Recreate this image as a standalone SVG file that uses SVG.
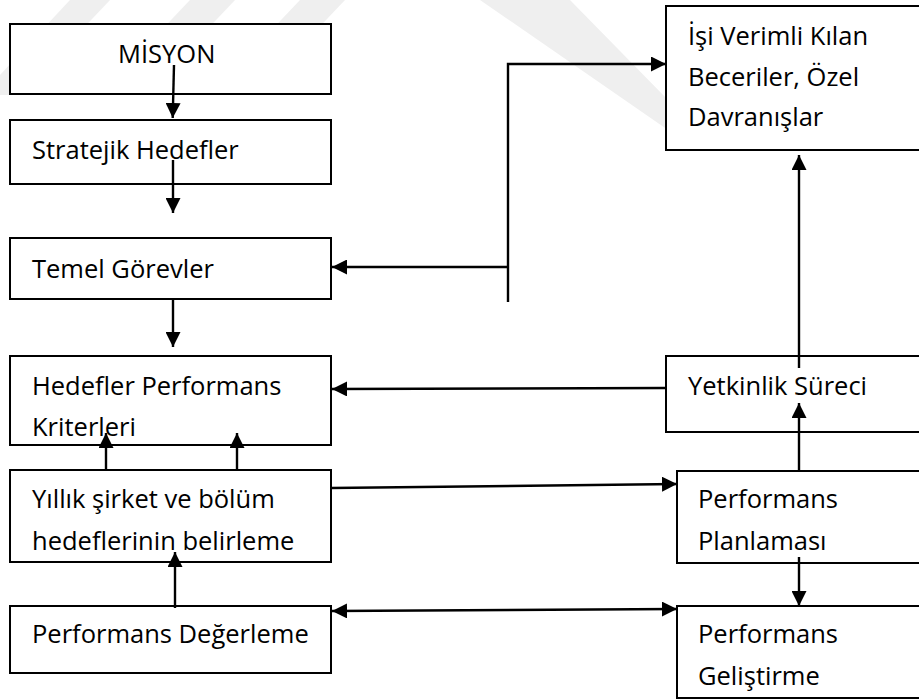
<svg xmlns="http://www.w3.org/2000/svg" width="919" height="699" viewBox="0 0 919 699">
<defs>
<marker id="ah" viewBox="0 0 10 10" refX="10" refY="5" markerWidth="15" markerHeight="15" markerUnits="userSpaceOnUse" orient="auto-start-reverse">
<path d="M0,0 L10,5 L0,10 Z" fill="#000"/>
</marker>
<style>
.box{fill:#fff;stroke:#000;stroke-width:2}
.t{font-family:"Open Sans","Noto Sans","DejaVu Sans",sans-serif;font-size:25.5px;fill:#000}
.c{fill:none;stroke:#000;stroke-width:2.4}
.wm{fill:#efefef}
</style>
</defs>
<rect width="919" height="699" fill="#fff"/>
<g id="watermark">
<polygon class="wm" points="70,0 110,0 20,95 0,95 0,75"/>
<polygon class="wm" points="190,0 235,0 145,95 100,95"/>
<polygon class="wm" points="300,0 345,0 255,95 210,95"/>
<polygon class="wm" points="480,0 570,0 668,100 668,130"/>
</g>
<g id="n-misyon"><rect class="box" x="10" y="24" width="321" height="70"/><text class="t" x="118" y="63">MİSYON</text></g>
<g id="n-stratejik"><rect class="box" x="10" y="120" width="321" height="64"/><text class="t" x="32" y="159">Stratejik Hedefler</text></g>
<g id="n-temel"><rect class="box" x="10" y="238" width="321" height="61"/><text class="t" x="32" y="278">Temel Görevler</text></g>
<g id="n-hedefler"><rect class="box" x="10" y="356" width="321" height="89"/><text class="t" x="32" y="395">Hedefler Performans</text><text class="t" x="32" y="436">Kriterleri</text></g>
<g id="n-yillik"><rect class="box" x="10" y="470" width="321" height="92"/><text class="t" x="32" y="508">Yıllık şirket ve bölüm</text><text class="t" x="32" y="550">hedeflerinin belirleme</text></g>
<g id="n-degerleme"><rect class="box" x="10" y="606" width="321" height="67"/><text class="t" x="32" y="643">Performans Değerleme</text></g>
<g id="n-isi"><rect class="box" x="666" y="6" width="270" height="144"/><text class="t" x="688" y="45">İşi Verimli Kılan</text><text class="t" x="688" y="86">Beceriler, Özel</text><text class="t" x="688" y="126">Davranışlar</text></g>
<g id="n-yetkinlik"><rect class="box" x="666" y="356" width="270" height="76"/><text class="t" x="688" y="395">Yetkinlik Süreci</text></g>
<g id="n-planlama"><rect class="box" x="677" y="471" width="260" height="92"/><text class="t" x="698" y="508">Performans</text><text class="t" x="698" y="550">Planlaması</text></g>
<g id="n-gelistirme"><rect class="box" x="677" y="606" width="260" height="92"/><text class="t" x="698" y="643">Performans</text><text class="t" x="698" y="685">Geliştirme</text></g>
<g id="connectors">
<path class="c" d="M174,65 L172.7,118" marker-end="url(#ah)"/>
<path class="c" d="M173,160 L173,213" marker-end="url(#ah)"/>
<path class="c" d="M173,299 L173,347" marker-end="url(#ah)"/>
<path class="c" d="M106,470 L106,433" marker-end="url(#ah)"/>
<path class="c" d="M237,470 L237,433" marker-end="url(#ah)"/>
<path class="c" d="M175,608 L175,552" marker-end="url(#ah)"/>
<path class="c" d="M508,267 L332,267" marker-end="url(#ah)"/>
<path class="c" d="M508,302 L508,64 L666,64" marker-end="url(#ah)"/>
<path class="c" d="M666,388 L332,389" marker-end="url(#ah)"/>
<path class="c" d="M799,368 L799,155" marker-end="url(#ah)"/>
<path class="c" d="M799,471 L799,403" marker-end="url(#ah)"/>
<path class="c" d="M331,488 L677,484" marker-end="url(#ah)"/>
<path class="c" d="M799,557 L799,606" marker-end="url(#ah)"/>
<path class="c" d="M332,611 L677,609" marker-start="url(#ah)" marker-end="url(#ah)"/>
</g>
</svg>
